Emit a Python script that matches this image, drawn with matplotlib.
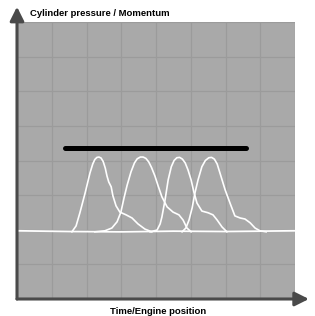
import numpy as np
import matplotlib
matplotlib.use('Agg')
import matplotlib.pyplot as plt

# grid units: 8 x 8 cells
baseline_x = [0.0, 1.5, 3.0, 4.5, 6.0, 7.0, 8.0]
baseline_y = [1.97, 1.95, 1.94, 1.96, 1.95, 1.96, 1.97]

cyl1_x = [1.58, 1.70, 1.81, 1.96, 2.10, 2.18, 2.24, 2.30, 2.36, 2.42, 2.48, 2.54, 2.59, 2.64, 2.71, 2.76, 2.85, 2.96, 3.14, 3.31, 3.48, 3.68, 3.88]
cyl1_y = [1.94, 2.11, 2.49, 3.06, 3.64, 3.90, 4.03, 4.09, 4.10, 4.07, 3.97, 3.78, 3.55, 3.38, 3.24, 2.98, 2.69, 2.51, 2.43, 2.34, 2.17, 2.02, 1.94]

cyl2_x = [2.24, 2.53, 2.73, 2.88, 2.99, 3.08, 3.17, 3.28, 3.38, 3.46, 3.55, 3.63, 3.71, 3.79, 3.87, 3.97, 4.06, 4.17, 4.32, 4.49, 4.66, 4.78, 4.89, 5.01]
cyl2_y = [1.94, 1.97, 2.05, 2.23, 2.51, 2.92, 3.29, 3.67, 3.93, 4.05, 4.10, 4.10, 4.06, 3.96, 3.80, 3.55, 3.27, 2.95, 2.66, 2.51, 2.43, 2.28, 2.05, 1.94]

cyl3_x = [3.83, 4.03, 4.12, 4.17, 4.26, 4.35, 4.44, 4.52, 4.60, 4.68, 4.76, 4.84, 4.92, 5.01, 5.09, 5.18, 5.32, 5.50, 5.64, 5.76, 5.90, 6.04]
cyl3_y = [1.94, 1.99, 2.17, 2.37, 2.86, 3.44, 3.82, 4.00, 4.08, 4.09, 4.04, 3.93, 3.73, 3.44, 3.09, 2.77, 2.54, 2.49, 2.43, 2.28, 2.08, 1.94]

cyl4_x = [4.75, 4.86, 4.95, 5.04, 5.12, 5.21, 5.32, 5.42, 5.52, 5.60, 5.68, 5.76, 5.84, 5.99, 6.13, 6.27, 6.42, 6.56, 6.71, 6.85, 6.99, 7.17]
cyl4_y = [1.94, 2.05, 2.28, 2.63, 3.06, 3.44, 3.82, 4.00, 4.08, 4.09, 4.04, 3.90, 3.64, 3.15, 2.77, 2.40, 2.34, 2.31, 2.20, 2.05, 1.97, 1.94]

momentum_x = [1.38, 6.59]
momentum_y = [4.36, 4.36]

fig = plt.figure(figsize=(3.15, 3.16), dpi=100)
ax = fig.add_axes([17 / 315, 17 / 316, 278 / 315, 277 / 316])
ax.set_facecolor('#a9a9a9')
ax.set_xlim(0, 8)
ax.set_ylim(0, 8)
ax.set_xticks(np.arange(0, 9, 1))
ax.set_yticks(np.arange(0, 9, 1))
ax.grid(True, color='#9b9b9b', linewidth=0.9)
ax.tick_params(length=0, labelbottom=False, labelleft=False)
for s in ax.spines.values():
    s.set_visible(False)

ax.plot(baseline_x, baseline_y, color='white', lw=1.3)
for xs, ys in [(cyl1_x, cyl1_y), (cyl2_x, cyl2_y), (cyl3_x, cyl3_y), (cyl4_x, cyl4_y)]:
    ax.plot(xs, ys, color='white', lw=1.2, solid_joinstyle='round')
ax.plot(momentum_x, momentum_y, color='black', lw=3.6, solid_capstyle='round')

# axis arrows
arrow = dict(arrowstyle='-|>,head_length=0.6,head_width=0.3', color='#4a4a4a', lw=2.2,
             mutation_scale=14, shrinkA=0, shrinkB=0)
ax.annotate('', xy=(0, 1.055), xytext=(0, 0), xycoords='axes fraction',
            textcoords='axes fraction', arrowprops=arrow, annotation_clip=False)
ax.annotate('', xy=(1.05, 0), xytext=(0, 0), xycoords='axes fraction',
            textcoords='axes fraction', arrowprops=arrow, annotation_clip=False)

fig.text(30 / 315, 1 - 13 / 316, 'Cylinder pressure / Momentum', fontsize=6.8,
         fontweight='bold', family='Liberation Sans', ha='left', va='center')
fig.text(158 / 315, 1 - 311 / 316, 'Time/Engine position', fontsize=6.8,
         fontweight='bold', family='Liberation Sans', ha='center', va='center')

fig.savefig('out.png', dpi=100, facecolor='white')
